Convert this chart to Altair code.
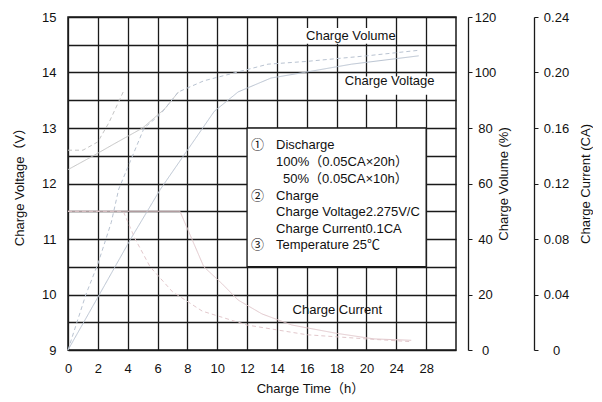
import altair as alt
import pandas as pd

FONT = "Liberation Sans, Arial, Noto Sans CJK SC, sans-serif"

# ---- axis ticks ----
x_ticks = [0, 2, 4, 6, 8, 10, 12, 14, 16, 18, 20, 24, 28]
volt_ticks = [9, 9.5, 10, 10.5, 11, 11.5, 12, 12.5, 13, 13.5, 14, 14.5, 15]
vol_ticks = [0, 20, 40, 60, 80, 100, 120]
cur_ticks = [0, 0.04, 0.08, 0.12, 0.16, 0.20, 0.24]

# ---- series ----
vol50_t = [0, 1.2, 2.0, 2.9, 3.4, 5.1, 6.2, 7.4, 9.1, 13.4, 16, 20, 27]
vol50_v = [0, 20, 31, 46, 58, 80, 85, 93, 97, 103, 104, 106, 108]
vol100_t = [0, 2.0, 4.2, 6.2, 8.0, 9.8, 11.4, 13.6, 15.8, 19, 24, 27]
vol100_v = [0, 19, 40, 58, 72, 86, 93, 98, 100, 103, 105, 106]

volt50_t = [0, 1.0, 2.0, 2.75, 3.7]
volt50_v = [12.6, 12.6, 12.75, 13.1, 13.65]
volt100_t = [0, 1.7, 3.0, 5.0, 6.5, 7.4]
volt100_v = [12.25, 12.5, 12.7, 13.0, 13.35, 13.65]

cur50_t = [0, 3.7, 4.5, 5.5, 7, 9, 12, 16, 20, 26]
cur50_v = [0.1, 0.1, 0.08, 0.06, 0.042, 0.028, 0.018, 0.011, 0.008, 0.006]
cur100_t = [0, 7.5, 8.5, 9.1, 10.3, 11.4, 13, 15, 18, 21, 26]
cur100_v = [0.1, 0.1, 0.075, 0.06, 0.048, 0.036, 0.026, 0.018, 0.012, 0.008, 0.007]

# ---- annotations ----
box_t1, box_t2, box_v1, box_v2 = [12], [28], [10.5], [13]
bg_t1 = [15.85, 18.4]
bg_t2 = [20.4, 29.8]
bg_v1 = [14.52, 13.6]
bg_v2 = [14.8, 13.93]

note_text = ["①", "Discharge", "100%（0.05CA×20h）", "50%（0.05CA×10h）",
             "②", "Charge", "Charge Voltage2.275V/C", "Charge Current0.1CA",
             "③", "Temperature 25℃",
             "Charge Volume", "Charge Voltage", "Charge Current"]
note_t = [12.27, 13.94, 13.94, 14.41, 12.27, 13.94, 13.94, 13.94, 12.27, 13.94,
          15.95, 18.55, 15.05]
note_v = [12.694, 12.694, 12.387, 12.081, 11.775, 11.775, 11.486, 11.180, 10.892, 10.892,
          14.65, 13.84, 9.72]

W, H = 388, 333


def mk(ts, vs, style):
    return pd.DataFrame({"t": ts, "val": vs, "style": style})


vol_df = pd.concat([mk(vol50_t, vol50_v, "50%"), mk(vol100_t, vol100_v, "100%")])
volt_df = pd.concat([mk(volt50_t, volt50_v, "50%"), mk(volt100_t, volt100_v, "100%")])
cur_df = pd.concat([mk(cur50_t, cur50_v, "50%"), mk(cur100_t, cur100_v, "100%")])
box_df = pd.DataFrame({"t": box_t1, "t2": box_t2, "v": box_v1, "v2": box_v2})
bg_df = pd.DataFrame({"t": bg_t1, "t2": bg_t2, "v": bg_v1, "v2": bg_v2})
note_df = pd.DataFrame({"t": note_t, "v": note_v, "label": note_text})

LBL = dict(labelFont=FONT, titleFont=FONT, labelFontSize=13, titleFontSize=13,
           labelColor="#111", titleColor="#111", titleFontWeight="normal")

xscale = alt.Scale(domain=[0, 20, 28, 32], range=[0, W * 10 / 13, W * 12 / 13, W],
                   nice=False, zero=False)
xaxis = alt.Axis(values=x_ticks, title="Charge Time（h）", grid=True, ticks=False,
                 domain=False, labelPadding=12, titlePadding=7, titleX=242,
                 labelFlush=False, labelOverlap=False, gridColor="#1a1a1a",
                 gridWidth=1.3, **LBL)
X = alt.X("t:Q", scale=xscale, axis=xaxis)

vscale = alt.Scale(domain=[9, 15], nice=False, zero=False)
vaxis = alt.Axis(values=volt_ticks, title="Charge Voltage（V）", grid=True, ticks=False,
                 domain=False, labelPadding=12, titlePadding=15, labelFlush=False,
                 labelOverlap=False, gridColor="#1a1a1a", gridWidth=1.3,
                 labelExpr="datum.value % 1 == 0 ? format(datum.value, 'd') : ''", **LBL)
Y = alt.Y("v:Q", scale=vscale, axis=vaxis)

dash = alt.StrokeDash("style:N", scale=alt.Scale(domain=["50%", "100%"],
                                                 range=[[4, 3], [1, 0]]), legend=None)

box = alt.Chart(box_df).mark_rect(fill="white", stroke="#1a1a1a", strokeWidth=1.3).encode(
    x=X, x2="t2:Q", y=Y, y2="v2:Q")
bg = alt.Chart(bg_df).mark_rect(fill="white").encode(x=X, x2="t2:Q", y=Y, y2="v2:Q")
volt_lines = alt.Chart(volt_df).mark_line(color="#c4c4c4", strokeWidth=1).encode(
    x=X, y=alt.Y("val:Q", scale=vscale, axis=vaxis), strokeDash=dash, detail="style:N")
notes = alt.Chart(note_df).mark_text(align="left", baseline="middle", fontSize=13,
                                     font=FONT, color="#111").encode(
    x=X, y=Y, text="label:N")

left = alt.layer(box, bg, volt_lines, notes)

vol_layer = alt.Chart(vol_df).mark_line(color="#b9c3d1", strokeWidth=1).encode(
    x=X,
    y=alt.Y("val:Q", scale=alt.Scale(domain=[0, 120], nice=False, zero=False),
            axis=alt.Axis(orient="right", offset=12, values=vol_ticks, grid=False,
                          tickSize=4, labelAlign="center", labelPadding=13,
                          title="Charge Volume (%)", titleAngle=270,
                          titleBaseline="top", titlePadding=2, labelFlush=False,
                          domainColor="#1a1a1a", tickColor="#1a1a1a",
                          domainWidth=1.3, **LBL)),
    strokeDash=dash, detail="style:N")

cur_layer = alt.Chart(cur_df).mark_line(color="#e2c8cc", strokeWidth=1).encode(
    x=X,
    y=alt.Y("val:Q", scale=alt.Scale(domain=[0, 0.24], nice=False, zero=False),
            axis=alt.Axis(orient="right", offset=78, values=cur_ticks, grid=False,
                          tickSize=4, labelAlign="center", labelPadding=18,
                          labelExpr="datum.value == 0 ? '0' : format(datum.value, '.2f')",
                          title="Charge Current (CA)", titleAngle=270,
                          titleBaseline="top", titlePadding=11, labelFlush=False,
                          domainColor="#1a1a1a", tickColor="#1a1a1a",
                          domainWidth=1.3, **LBL)),
    strokeDash=dash, detail="style:N")

chart = alt.layer(left, vol_layer, cur_layer).resolve_scale(y="independent").properties(
    width=W, height=H, background="white",
    padding={"left": 5, "top": 3, "right": 0, "bottom": 2}
).configure_view(stroke="#1a1a1a", strokeWidth=1.5)

chart.save("out.html", embed_options={"renderer": "svg", "actions": False})
